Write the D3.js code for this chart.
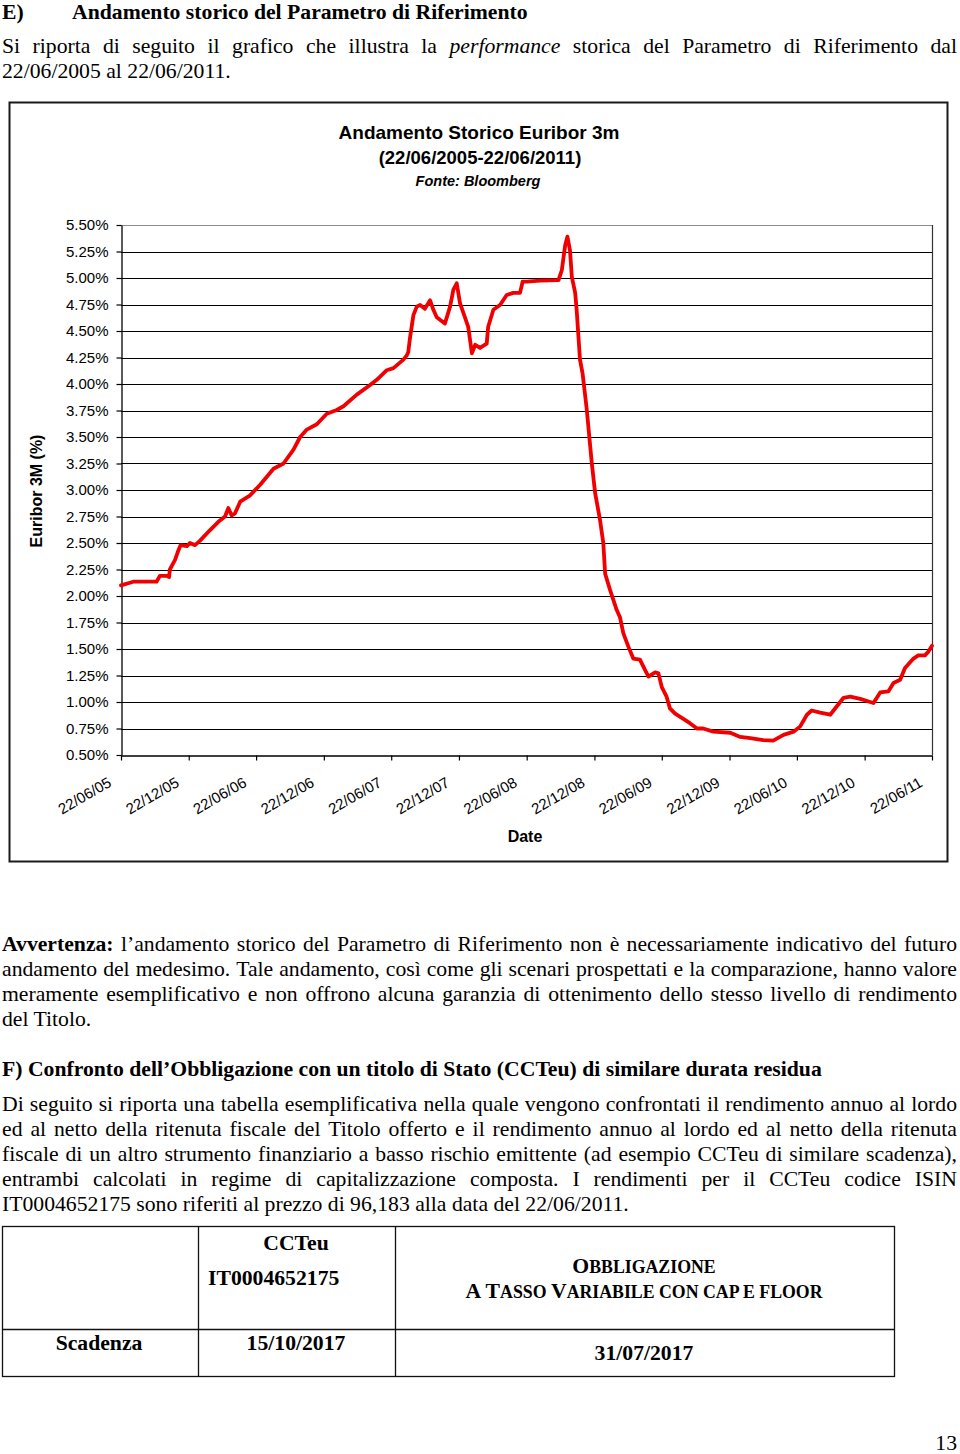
<!DOCTYPE html>
<html><head><meta charset="utf-8">
<script src="https://cdn.jsdelivr.net/npm/d3@7"></script>
<style>body{margin:0;background:#fff}svg{display:block}</style>
</head><body>
<script>
// ---- DATA ----
const dates = ["2005-06-22","2005-07-16","2005-07-25","2005-09-26","2005-10-05","2005-10-23","2005-10-30","2005-11-01","2005-11-15","2005-11-24",
"2005-11-30","2005-12-17","2005-12-25","2006-01-08","2006-01-21","2006-02-17","2006-03-12","2006-03-30","2006-04-08","2006-04-17",
"2006-04-26","2006-05-10","2006-06-06","2006-07-03","2006-08-08","2006-09-04","2006-10-01","2006-10-19","2006-11-06","2006-12-03",
"2006-12-30","2007-01-26","2007-02-13","2007-03-21","2007-04-26","2007-05-14","2007-06-10","2007-06-28","2007-07-25","2007-08-03",
"2007-08-07","2007-08-12","2007-08-21","2007-08-30","2007-09-08","2007-09-21","2007-10-05","2007-10-14","2007-10-23","2007-11-14",
"2007-11-28","2007-12-07","2007-12-16","2007-12-25","2008-01-07","2008-01-16","2008-01-26","2008-02-04","2008-02-17","2008-03-06",
"2008-03-10","2008-03-24","2008-04-11","2008-04-29","2008-05-17","2008-06-04","2008-06-11","2008-06-22","2008-07-28","2008-09-16",
"2008-09-25","2008-10-04","2008-10-10","2008-10-17","2008-10-22","2008-10-31","2008-11-04","2008-11-13","2008-11-20","2008-12-01",
"2008-12-15","2008-12-24","2009-01-06","2009-01-15","2009-01-20","2009-02-02","2009-02-20","2009-03-01","2009-03-10","2009-03-24",
"2009-04-06","2009-04-24","2009-05-08","2009-05-17","2009-06-04","2009-06-13","2009-06-22","2009-07-05","2009-07-14","2009-07-28",
"2009-08-15","2009-09-06","2009-09-25","2009-10-12","2009-11-08","2009-12-24","2010-01-20","2010-02-16","2010-03-23","2010-04-19",
"2010-05-17","2010-06-13","2010-07-01","2010-07-19","2010-08-01","2010-08-24","2010-09-20","2010-10-08","2010-10-26","2010-11-13",
"2010-12-10","2011-01-06","2011-01-15","2011-02-02","2011-02-24","2011-03-10","2011-03-28","2011-04-10","2011-05-03","2011-05-16",
"2011-06-03","2011-06-12","2011-06-22"];
const rates = [2.10,2.125,2.135,2.135,2.19,2.19,2.18,2.25,2.34,2.43,
2.48,2.47,2.50,2.48,2.52,2.62,2.70,2.75,2.83,2.76,
2.78,2.89,2.95,3.05,3.20,3.25,3.38,3.50,3.57,3.62,
3.72,3.755,3.79,3.90,3.99,4.04,4.13,4.15,4.23,4.27,
4.30,4.44,4.65,4.73,4.745,4.71,4.79,4.70,4.63,4.57,
4.73,4.89,4.95,4.76,4.63,4.54,4.29,4.37,4.34,4.38,
4.54,4.70,4.745,4.84,4.86,4.86,4.965,4.965,4.975,4.98,
5.075,5.31,5.39,5.26,5.01,4.86,4.70,4.23,4.10,3.77,
3.25,2.97,2.72,2.50,2.21,2.06,1.87,1.80,1.65,1.52,
1.41,1.40,1.30,1.24,1.28,1.27,1.14,1.05,0.94,0.89,
0.85,0.80,0.75,0.75,0.72,0.71,0.67,0.66,0.64,0.635,
0.69,0.72,0.77,0.88,0.92,0.90,0.88,0.96,1.04,1.05,
1.03,1.00,0.99,1.09,1.10,1.18,1.21,1.32,1.41,1.44,
1.44,1.475,1.53];
const yTicks = [0.5,0.75,1.0,1.25,1.5,1.75,2.0,2.25,2.5,2.75,3.0,3.25,3.5,3.75,4.0,4.25,4.5,4.75,5.0,5.25,5.5];
const xTickLabels = ["22/06/05","22/12/05","22/06/06","22/12/06","22/06/07","22/12/07","22/06/08","22/12/08","22/06/09","22/12/09","22/06/10","22/12/10","22/06/11"];
const chartTitle = ["Andamento Storico Euribor 3m","(22/06/2005-22/06/2011)","Fonte: Bloomberg"];
const yAxisTitle = "Euribor 3M (%)";
const xAxisTitle = "Date";

// ---- PAGE ----
const W = 960, H = 1454;
const svg = d3.select("body").append("svg").attr("width", W).attr("height", H);
svg.append("rect").attr("width", W).attr("height", H).attr("fill", "#fff");

const SERIF = "'Liberation Serif','Times New Roman',serif";
const SANS = "'Liberation Sans',Arial,sans-serif";
const FS = 21.7;

function lineText(y, parts, x0, x1) {
  if (x1 === undefined) {
    const t = svg.append("text").attr("x", x0).attr("y", y)
      .style("font-family", SERIF).style("font-size", FS + "px").style("white-space", "pre").attr("fill", "#000");
    parts.forEach(p => t.append("tspan").text(p.t)
      .style("font-weight", p.b ? "bold" : "normal").style("font-style", p.i ? "italic" : "normal"));
    return;
  }
  const words = [];
  parts.forEach(p => p.t.split(" ").forEach(w => { if (w.length) words.push({t: w, b: p.b, i: p.i}); }));
  const nodes = words.map(w => svg.append("text").attr("y", y).text(w.t)
    .style("font-family", SERIF).style("font-size", FS + "px").attr("fill", "#000")
    .style("font-weight", w.b ? "bold" : "normal").style("font-style", w.i ? "italic" : "normal"));
  const widths = nodes.map(n => n.node().getComputedTextLength());
  const sum = d3.sum(widths);
  const gap = (x1 - x0 - sum) / (words.length - 1);
  let x = x0;
  nodes.forEach((n, k) => { n.attr("x", x); x += widths[k] + gap; });
}

// Section E header
lineText(19, [{t: "E)", b: true}], 2);
lineText(19, [{t: "Andamento storico del Parametro di Riferimento", b: true}], 72);
lineText(53, [{t: "Si riporta di seguito il grafico che illustra la "}, {t: "performance", i: true}, {t: " storica del Parametro di Riferimento dal"}], 2, 957);
lineText(78, [{t: "22/06/2005 al 22/06/2011."}], 2);

// ---- CHART ----
svg.append("rect").attr("x", 9.5).attr("y", 102.5).attr("width", 938).attr("height", 759)
  .attr("fill", "#fff").attr("stroke", "#1a1a1a").attr("stroke-width", 2);

const ct = svg.append("g").style("font-family", SANS).style("font-weight", "bold").attr("text-anchor", "middle").attr("fill", "#000");
ct.append("text").attr("x", 479).attr("y", 139).style("font-size", "19px").text(chartTitle[0]);
ct.append("text").attr("x", 480).attr("y", 164).style("font-size", "18.5px").text(chartTitle[1]);
ct.append("text").attr("x", 478).attr("y", 186).style("font-size", "14.5px").style("font-style", "italic").text(chartTitle[2]);

const parseD = d3.utcParse("%Y-%m-%d");
const parseTick = d3.utcParse("%d/%m/%y");
const data = dates.map((d, i) => ({d: parseD(d), v: rates[i]}));
const xTickDates = xTickLabels.map(parseTick);

const x = d3.scaleUtc().domain([xTickDates[0], xTickDates[xTickDates.length - 1]]).range([121, 932]);
const y = d3.scaleLinear().domain([0.5, 5.5]).range([755, 225]);

// gridlines
svg.append("g").selectAll("line").data(yTicks.slice(1, -1)).join("line")
  .attr("x1", 121).attr("x2", 932).attr("y1", d => Math.round(y(d)) + 0.5).attr("y2", d => Math.round(y(d)) + 0.5)
  .attr("stroke", "#000").attr("stroke-width", 1.2);
svg.append("line").attr("x1", 121).attr("x2", 932).attr("y1", y(5.5) + 0.5).attr("y2", y(5.5) + 0.5).attr("stroke", "#8c8c8c").attr("stroke-width", 1.2);
svg.append("line").attr("x1", 932.5).attr("x2", 932.5).attr("y1", y(5.5)).attr("y2", y(0.5)).attr("stroke", "#333").attr("stroke-width", 1.2);

// y axis
const yAxis = svg.append("g").attr("transform", "translate(121.5,0)")
  .call(d3.axisLeft(y).tickValues(yTicks).tickSize(5).tickSizeOuter(0).tickFormat(d => d3.format(".2f")(d) + "%"));
yAxis.select(".domain").attr("stroke", "#000").attr("stroke-width", 1.3);
yAxis.selectAll(".tick line").attr("stroke", "#000").attr("stroke-width", 1.2);
yAxis.selectAll(".tick text").style("font-family", SANS).style("font-size", "15px").attr("fill", "#000").attr("x", -13);

// x axis
const xAxis = svg.append("g").attr("transform", "translate(0,755.5)")
  .call(d3.axisBottom(x).tickValues(xTickDates).tickSize(5).tickSizeOuter(0).tickFormat(d3.utcFormat("%d/%m/%y")));
xAxis.select(".domain").attr("stroke", "#000").attr("stroke-width", 1.3);
xAxis.selectAll(".tick line").attr("stroke", "#000").attr("stroke-width", 1.2);
xAxis.selectAll(".tick text").style("font-family", SANS).style("font-size", "15px").attr("fill", "#000")
  .attr("x", 0).attr("y", 0).attr("dy", 0).attr("text-anchor", "end")
  .attr("transform", "translate(-9,30) rotate(-30)");

// axis titles
svg.append("text").attr("transform", "translate(42,491) rotate(-90)").attr("text-anchor", "middle")
  .style("font-family", SANS).style("font-weight", "bold").style("font-size", "16px").text(yAxisTitle);
svg.append("text").attr("x", 525).attr("y", 842).attr("text-anchor", "middle")
  .style("font-family", SANS).style("font-weight", "bold").style("font-size", "16px").text(xAxisTitle);

// series
svg.append("path").datum(data)
  .attr("d", d3.line().x(d => x(d.d)).y(d => y(d.v)))
  .attr("fill", "none").attr("stroke", "#f00000").attr("stroke-width", 3.8)
  .attr("stroke-linejoin", "round").attr("stroke-linecap", "round");

// ---- TEXT BELOW ----
lineText(951, [{t: "Avvertenza:", b: true}, {t: " l’andamento storico del Parametro di Riferimento non è necessariamente indicativo del futuro"}], 2, 957);
lineText(976, [{t: "andamento del medesimo. Tale andamento, così come gli scenari prospettati e la comparazione, hanno valore"}], 2, 957);
lineText(1001, [{t: "meramente esemplificativo e non offrono alcuna garanzia di ottenimento dello stesso livello di rendimento"}], 2, 957);
lineText(1026, [{t: "del Titolo."}], 2);

lineText(1076, [{t: "F) Confronto dell’Obbligazione con un titolo di Stato (CCTeu) di similare durata residua", b: true}], 2);

lineText(1111, [{t: "Di seguito si riporta una tabella esemplificativa nella quale vengono confrontati il rendimento annuo al lordo"}], 2, 957);
lineText(1136, [{t: "ed al netto della ritenuta fiscale del Titolo offerto e il rendimento annuo al lordo ed al netto della ritenuta"}], 2, 957);
lineText(1161, [{t: "fiscale di un altro strumento finanziario a basso rischio emittente (ad esempio CCTeu di similare scadenza),"}], 2, 957);
lineText(1186, [{t: "entrambi calcolati in regime di capitalizzazione composta. I rendimenti per il CCTeu codice ISIN"}], 2, 957);
lineText(1211, [{t: "IT0004652175 sono riferiti al prezzo di 96,183 alla data del 22/06/2011."}], 2);

// ---- TABLE ----
const tb = svg.append("g").attr("stroke", "#111").attr("stroke-width", 1.3);
tb.append("rect").attr("x", 2.5).attr("y", 1226.5).attr("width", 892).attr("height", 150).attr("fill", "none");
tb.append("line").attr("x1", 198.5).attr("x2", 198.5).attr("y1", 1226).attr("y2", 1377);
tb.append("line").attr("x1", 395.5).attr("x2", 395.5).attr("y1", 1226).attr("y2", 1377);
tb.append("line").attr("x1", 2).attr("x2", 895).attr("y1", 1329.5).attr("y2", 1329.5);

const tt = svg.append("g").style("font-family", SERIF).style("font-weight", "bold").style("font-size", FS + "px").attr("fill", "#000");
tt.append("text").attr("x", 296).attr("y", 1250).attr("text-anchor", "middle").text("CCTeu");
tt.append("text").attr("x", 208).attr("y", 1285).text("IT0004652175");

function smallCaps(sel, str, big, small) {
  const runs = [];
  for (const ch of str) {
    const isLower = ch !== ch.toUpperCase() || ch === " ";
    const last = runs[runs.length - 1];
    if (last && last.lower === isLower) last.t += ch; else runs.push({t: ch, lower: isLower});
  }
  const t = sel.style("white-space", "pre");
  runs.forEach(r => t.append("tspan").style("font-size", (r.lower ? small : big) + "px").text(r.t.toUpperCase()));
}
smallCaps(tt.append("text").attr("x", 644).attr("y", 1273).attr("text-anchor", "middle"), "Obbligazione", FS, 17.8);
smallCaps(tt.append("text").attr("x", 644).attr("y", 1298).attr("text-anchor", "middle"), "A Tasso Variabile con cap e floor", FS, 17.8);

tt.append("text").attr("x", 99).attr("y", 1350).attr("text-anchor", "middle").text("Scadenza");
tt.append("text").attr("x", 296).attr("y", 1350).attr("text-anchor", "middle").text("15/10/2017");
tt.append("text").attr("x", 644).attr("y", 1360).attr("text-anchor", "middle").text("31/07/2017");

// page number
svg.append("text").attr("x", 957).attr("y", 1450).attr("text-anchor", "end")
  .style("font-family", SERIF).style("font-size", FS + "px").text("13");
</script>
</body></html>
